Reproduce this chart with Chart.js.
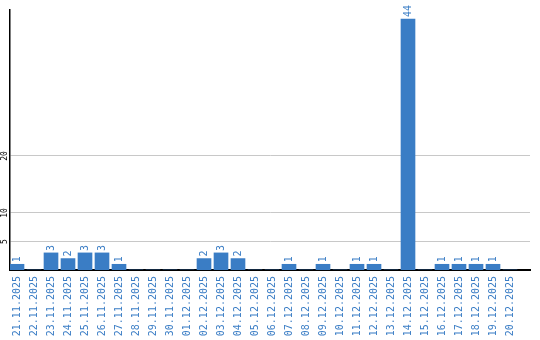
<!DOCTYPE html>
<html>
<head>
<meta charset="utf-8">
<script src="https://cdn.jsdelivr.net/npm/chart.js@4/dist/chart.umd.min.js"></script>
<style>
  html, body { margin: 0; padding: 0; background: #fff; }
  #wrap { width: 540px; height: 340px; }
</style>
</head>
<body>
<div id="wrap"><canvas id="chart" width="540" height="340"></canvas></div>
<script>
// dates on the x axis
const days = [
  '21.11.2025', '22.11.2025', '23.11.2025', '24.11.2025', '25.11.2025',
  '26.11.2025', '27.11.2025', '28.11.2025', '29.11.2025', '30.11.2025',
  '01.12.2025', '02.12.2025', '03.12.2025', '04.12.2025', '05.12.2025',
  '06.12.2025', '07.12.2025', '08.12.2025', '09.12.2025', '10.12.2025',
  '11.12.2025', '12.12.2025', '13.12.2025', '14.12.2025', '15.12.2025',
  '16.12.2025', '17.12.2025', '18.12.2025', '19.12.2025', '20.12.2025'
];
// count per day
const counts = [1, 0, 3, 2, 3, 3, 1, 0, 0, 0, 0, 2, 3, 2, 0, 0, 1, 0, 1, 0, 1, 1, 0, 44, 0, 1, 1, 1, 1, 0];
// y ticks that are shown
const yTicks = [5, 10, 20];

const blue = '#3a7dc5';
const mono = 'DejaVu Sans Mono';

// values above the bars, written upward
const valueLabels = {
  id: 'valueLabels',
  afterDatasetsDraw(chart) {
    const ctx = chart.ctx;
    const meta = chart.getDatasetMeta(0);
    ctx.save();
    ctx.fillStyle = blue;
    ctx.font = '10px "' + mono + '"';
    ctx.textAlign = 'left';
    ctx.textBaseline = 'middle';
    meta.data.forEach((bar, i) => {
      if (!counts[i]) return;
      ctx.save();
      ctx.translate(bar.x + 0.5, bar.y - 2);
      ctx.rotate(-Math.PI / 2);
      ctx.fillText(String(counts[i]), 0, 0);
      ctx.restore();
    });
    ctx.restore();
  }
};

new Chart(document.getElementById('chart'), {
  type: 'bar',
  data: {
    datasets: [{
      data: counts.map((v, i) => ({ x: i, y: v })),
      backgroundColor: blue,
      borderWidth: 0,
      barThickness: 14
    }]
  },
  options: {
    responsive: false,
    animation: false,
    layout: { padding: { top: 10, right: 10, left: 0, bottom: 0 } },
    plugins: { legend: { display: false }, tooltip: { enabled: false } },
    scales: {
      x: {
        type: 'linear',
        offset: false,
        min: -7 / 17,
        max: 520 / 17 - 7 / 17,
        grid: { display: false, drawTicks: false, offset: false },
        border: { display: true, color: '#000', width: 2 },
        afterBuildTicks: axis => { axis.ticks = days.map((d, i) => ({ value: i })); },
        afterFit: axis => {
          axis.height = 70;
          axis.paddingLeft = 0;
          axis.paddingRight = 0;
        },
        ticks: {
          autoSkip: false,
          minRotation: 90,
          maxRotation: 90,
          padding: 6,
          color: blue,
          font: { family: mono, size: 10 },
          callback: v => days[v]
        }
      },
      y: {
        min: 0,
        max: 45.6,
        grid: { color: '#c8c8c8', lineWidth: 1, drawTicks: false },
        border: { display: true, color: '#000', width: 1.5 },
        afterBuildTicks: axis => { axis.ticks = yTicks.map(v => ({ value: v })); },
        afterFit: axis => {
          axis.width = 10;
          axis.paddingTop = 0;
          axis.paddingBottom = 0;
        },
        ticks: {
          minRotation: 90,
          maxRotation: 90,
          crossAlign: 'center',
          padding: 0,
          color: '#000',
          font: { family: mono, size: 8 }
        }
      }
    }
  },
  plugins: [valueLabels]
});
</script>
</body>
</html>
